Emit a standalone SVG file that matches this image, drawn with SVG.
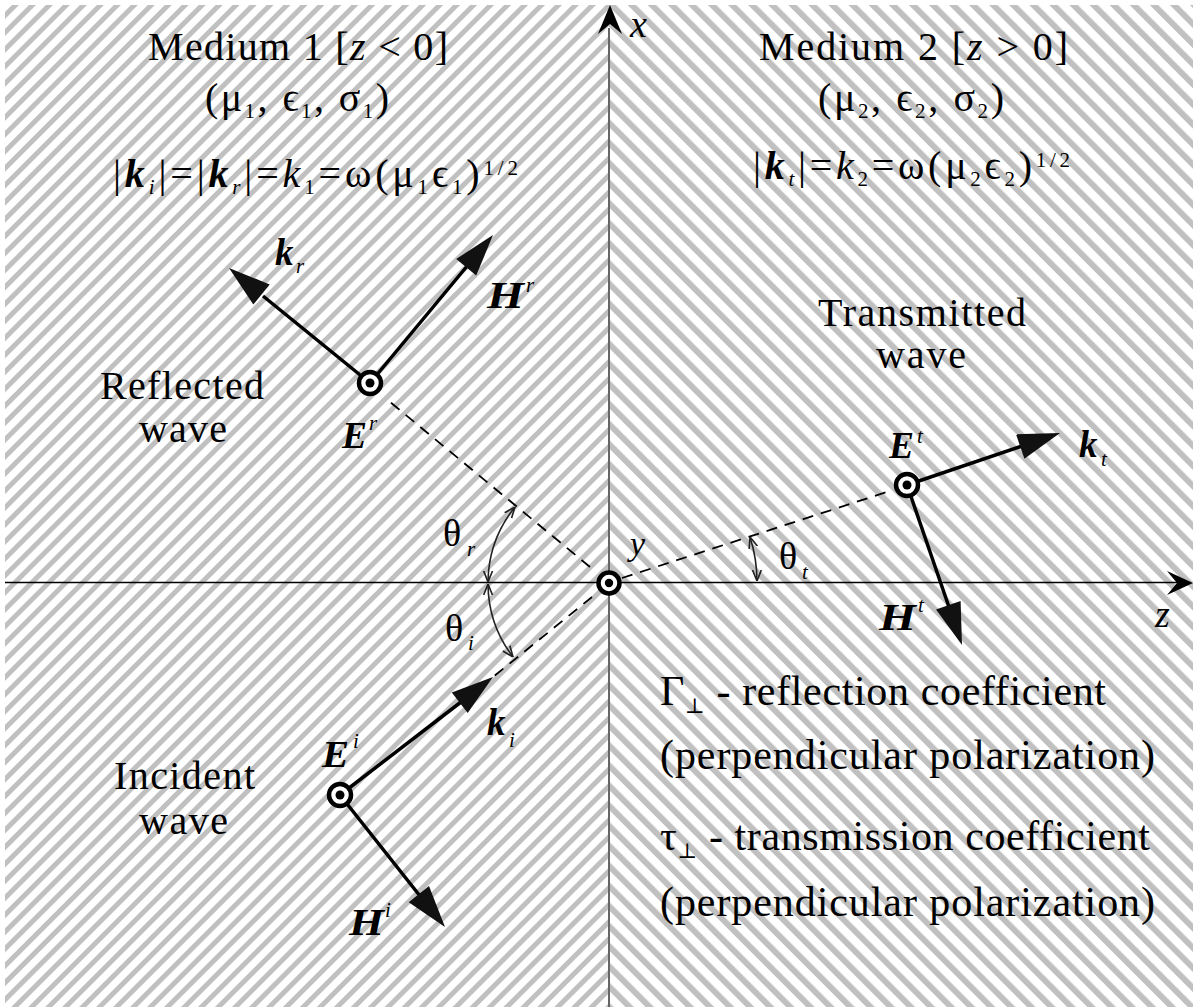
<svg xmlns="http://www.w3.org/2000/svg" width="1193" height="1007" viewBox="0 0 1193 1007">
<style>
.t{font-family:"Liberation Serif","DejaVu Serif",serif;fill:#000}
.f40{font-size:40px}
.f42{font-size:42px}
.th{font-size:38px}
.sub{font-size:21px;font-style:normal;font-weight:normal}
.subi{font-size:21px;font-style:italic;font-weight:normal}
.bi{font-weight:bold;font-style:italic}
.it{font-style:italic}
.lab{font-family:"Liberation Serif","DejaVu Serif",serif;font-size:37px;font-weight:bold;font-style:italic;fill:#000}
.small{font-family:"Liberation Serif","DejaVu Serif",serif;font-size:21px;font-style:italic;fill:#000}
.vec{stroke:#000;stroke-width:3.5;fill:none}
.head{fill:#111;stroke:none}
.dash{stroke:#000;stroke-width:1.8;stroke-dasharray:11 8;fill:none}
.arc{stroke:#222;stroke-width:1.6;fill:none;marker-start:url(#oa);marker-end:url(#oa)}
.ring{fill:#fff;stroke:#000;stroke-width:4.5}
.dot{fill:#000}
</style>
<defs>
<pattern id="hl" width="12" height="12" patternUnits="userSpaceOnUse" patternTransform="rotate(45)"><rect width="5" height="12" fill="#c0c0c0"/></pattern>
<pattern id="hr" width="14.2" height="14.2" patternUnits="userSpaceOnUse" patternTransform="rotate(-45)"><rect width="6" height="14.2" fill="#c0c0c0"/></pattern>
<marker id="oa" viewBox="0 0 10 10" refX="10" refY="5" markerWidth="11" markerHeight="11" markerUnits="userSpaceOnUse" orient="auto-start-reverse"><path d="M0,1 L10,5 L0,9" fill="none" stroke="#222" stroke-width="1.5"/></marker>
</defs>
<g id="background">
<rect width="1193" height="1007" fill="#fff"/>
<rect x="5" y="5" width="604" height="1002" fill="url(#hl)"/>
<rect x="609" y="5" width="584" height="1002" fill="url(#hr)"/>
</g>
<g id="axes">
<line x1="609" y1="28" x2="609" y2="1007" stroke="#666" stroke-width="2"/>
<polygon points="610,5 622,34 610,24 598,34" fill="#000"/>
<line x1="5" y1="582.5" x2="1180" y2="582.5" stroke="#000" stroke-width="1.3"/>
<polygon points="1193,583 1167,595 1177,583 1167,571" fill="#000"/>
<text class="t it" x="630" y="37" font-size="38">x</text>
<text class="t it" x="1155" y="627" font-size="38">z</text>
<text class="t it" x="630" y="555" font-size="34">y</text>
</g>
<g id="connectors">
<line class="dash" x1="590" y1="567" x2="390" y2="402"/>
<line class="dash" x1="592" y1="597" x2="493" y2="677"/>
<line class="dash" x1="622" y1="578" x2="893" y2="490"/>
<path class="arc" d="M515,507 A121 121 0 0 0 488,582"/>
<path class="arc" d="M488,584 A121 121 0 0 0 513,657"/>
<path class="arc" d="M750,537 A148 148 0 0 1 757,581"/>
<line class="vec" x1="370" y1="383" x2="263" y2="296"/>
<polygon class="head" points="229,268 269.7,284.4 253.3,304.6"/>
<line class="vec" x1="370" y1="383" x2="468" y2="265"/>
<polygon class="head" points="493,235 476.2,275.6 456.2,259"/>
<line class="vec" x1="907" y1="485" x2="1022" y2="446"/>
<polygon class="head" points="1060,433 1024.4,458.8 1016,434.2"/>
<line class="vec" x1="907" y1="485" x2="949" y2="607"/>
<polygon class="head" points="962,645 936,609.5 960.6,601.1"/>
<line class="vec" x1="340" y1="795" x2="461" y2="702"/>
<polygon class="head" points="493,677 467.7,712.9 451.8,692.4"/>
<line class="vec" x1="340" y1="795" x2="420" y2="896"/>
<polygon class="head" points="445,927 408.7,902.2 429,886"/>
</g>
<g id="node-origin">
<circle class="ring" cx="609" cy="583" r="10.5" stroke-width="5"/>
<circle class="dot" cx="609" cy="583" r="4.2"/>
</g>
<g id="node-Er">
<circle class="ring" cx="370" cy="383" r="11"/>
<circle class="dot" cx="370" cy="383" r="4.5"/>
<text class="lab" x="342" y="448" textLength="25" lengthAdjust="spacingAndGlyphs">E</text><text class="small" x="369" y="430">r</text>
</g>
<g id="node-Et">
<circle class="ring" cx="907" cy="485" r="11"/>
<circle class="dot" cx="907" cy="485" r="4.5"/>
<text class="lab" x="889" y="458" textLength="25" lengthAdjust="spacingAndGlyphs">E</text><text class="small" x="917" y="443">t</text>
</g>
<g id="node-Ei">
<circle class="ring" cx="340" cy="795" r="11"/>
<circle class="dot" cx="340" cy="795" r="4.5"/>
<text class="lab" x="322" y="767" textLength="27" lengthAdjust="spacingAndGlyphs">E</text><text class="small" x="353" y="748">i</text>
</g>
<g id="vector-labels">
<text class="lab" x="275" y="265">k</text><text class="small" x="296" y="273">r</text>
<text class="lab" x="487" y="308" textLength="37" lengthAdjust="spacingAndGlyphs">H</text><text class="small" x="526" y="292">r</text>
<text class="lab" x="1079" y="457">k</text><text class="small" x="1101" y="466">t</text>
<text class="lab" x="879" y="630" textLength="37" lengthAdjust="spacingAndGlyphs">H</text><text class="small" x="918" y="612">t</text>
<text class="lab" x="487" y="735">k</text><text class="small" x="509" y="747">i</text>
<text class="lab" x="349" y="935" textLength="35" lengthAdjust="spacingAndGlyphs">H</text><text class="small" x="385" y="917">i</text>
</g>
<g id="angle-labels">
<text class="t th" x="443" y="546">θ</text><text class="small" x="467" y="556">r</text>
<text class="t th" x="445" y="641">θ</text><text class="small" x="468" y="650">i</text>
<text class="t th" x="779" y="569">θ</text><text class="small" x="802" y="579">t</text>
</g>
<g id="medium1">
<text class="t f40" x="148" y="60" textLength="300">Medium 1 [<tspan class="it">z</tspan> &lt; 0]</text>
<text class="t f40" x="205" y="111" textLength="184">(μ<tspan class="sub" dy="7">1</tspan><tspan dy="-7">, ϵ</tspan><tspan class="sub" dy="7">1</tspan><tspan dy="-7">, σ</tspan><tspan class="sub" dy="7">1</tspan><tspan dy="-7">)</tspan></text>
<text class="t f40" x="113" y="187" textLength="405">|<tspan class="bi">k</tspan><tspan class="subi" dy="7">i</tspan><tspan dy="-7">|=|</tspan><tspan class="bi">k</tspan><tspan class="subi" dy="7">r</tspan><tspan dy="-7">|=</tspan><tspan class="it">k</tspan><tspan class="sub" dy="7">1</tspan><tspan dy="-7">=ω(μ</tspan><tspan class="sub" dy="7">1</tspan><tspan dy="-7">ϵ</tspan><tspan class="sub" dy="7">1</tspan><tspan dy="-7">)</tspan><tspan class="sub" dy="-12">1/2</tspan></text>
</g>
<g id="medium2">
<text class="t f40" x="759" y="60" textLength="309">Medium 2 [<tspan class="it">z</tspan> &gt; 0]</text>
<text class="t f40" x="818" y="111" textLength="186">(μ<tspan class="sub" dy="7">2</tspan><tspan dy="-7">, ϵ</tspan><tspan class="sub" dy="7">2</tspan><tspan dy="-7">, σ</tspan><tspan class="sub" dy="7">2</tspan><tspan dy="-7">)</tspan></text>
<text class="t f40" x="753" y="179" textLength="317">|<tspan class="bi">k</tspan><tspan class="subi" dy="7">t</tspan><tspan dy="-7">|=</tspan><tspan class="it">k</tspan><tspan class="sub" dy="7">2</tspan><tspan dy="-7">=ω(μ</tspan><tspan class="sub" dy="7">2</tspan><tspan dy="-7">ϵ</tspan><tspan class="sub" dy="7">2</tspan><tspan dy="-7">)</tspan><tspan class="sub" dy="-12">1/2</tspan></text>
</g>
<g id="wave-labels">
<text class="t f40" x="100" y="399" textLength="164">Reflected</text>
<text class="t f40" x="139" y="442" textLength="88">wave</text>
<text class="t f40" x="114" y="789" textLength="141">Incident</text>
<text class="t f40" x="139" y="834" textLength="89">wave</text>
<text class="t f40" x="818" y="326" textLength="208">Transmitted</text>
<text class="t f40" x="876" y="368" textLength="90">wave</text>
</g>
<g id="coefficients">
<text class="t f42" x="660" y="705" textLength="446">Γ<tspan class="sub" dy="8">⊥</tspan><tspan dy="-8"> - reflection coefficient</tspan></text>
<text class="t f42" x="660" y="769" textLength="495">(perpendicular polarization)</text>
<text class="t f42" x="660" y="850" textLength="490">τ<tspan class="sub" dy="8">⊥</tspan><tspan dy="-8"> - transmission coefficient</tspan></text>
<text class="t f42" x="660" y="916" textLength="495">(perpendicular polarization)</text>
</g>
</svg>
